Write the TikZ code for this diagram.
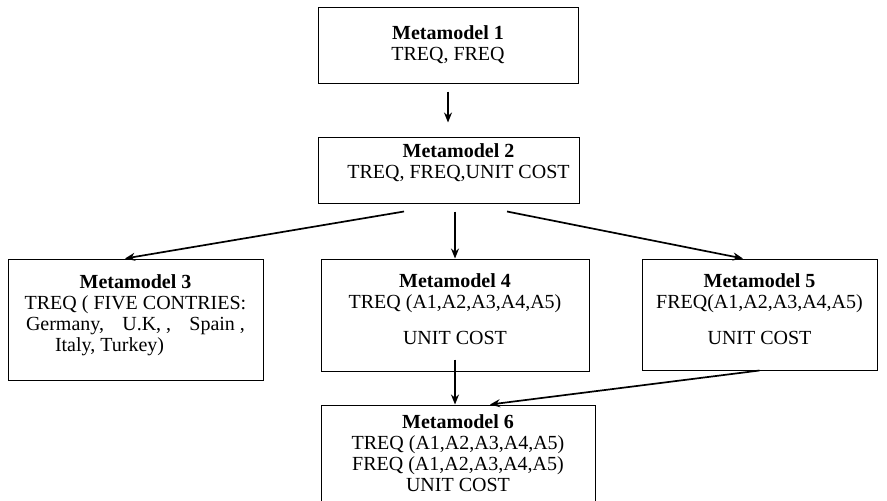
\documentclass[tikz,border=0pt]{standalone}
\usepackage{fontspec}
\setmainfont{Liberation Serif}
\usetikzlibrary{arrows.meta}
\tikzset{font={\fontsize{20pt}{21pt}\selectfont}}
\newcommand{\mtitle}[1]{\textbf{#1}}
\newcommand{\lowerpad}[1]{\rule[-#1]{0pt}{0pt}}

\begin{document}
\begin{tikzpicture}[x=1pt,y=-1pt,>={Stealth[length=10pt,width=8pt]},
                    box/.style={draw,line width=1pt,rectangle,align=center,inner sep=0pt},
                    arr/.style={->,line width=1.7pt}]
  \useasboundingbox (0,0) rectangle (887,501);

  \node[box,minimum width=260pt,minimum height=76pt] (m1) at (448,45)
    {\mtitle{Metamodel 1}\\TREQ, FREQ\lowerpad{2pt}};
  \node[box,minimum width=261pt,minimum height=66pt] (m2) at (448.5,170)
    {\hspace*{20pt}\mtitle{Metamodel 2}\\\hspace*{20pt}TREQ, FREQ,UNIT COST\lowerpad{18pt}};
  \node[box,minimum width=255pt,minimum height=121pt] (m3) at (135.5,319.5)
    {\mtitle{Metamodel 3}\\TREQ ( FIVE CONTRIES:\\
     \makebox[219pt]{Germany,\hfill U.K, ,\hfill Spain ,}\\
     \makebox[219pt][l]{\hspace*{29pt}Italy, Turkey)}\lowerpad{13pt}};
  \node[box,minimum width=268pt,minimum height=112pt] (m4) at (455,315)
    {\mtitle{Metamodel 4}\\TREQ (A1,A2,A3,A4,A5)\\[15pt]UNIT COST\lowerpad{11pt}};
  \node[box,minimum width=235pt,minimum height=111pt] (m5) at (759.5,314.5)
    {\mtitle{Metamodel 5}\\FREQ(A1,A2,A3,A4,A5)\\[15pt]UNIT COST\lowerpad{11pt}};
  \node[box,minimum width=274pt,minimum height=98pt] (m6) at (458,454)
    {\mtitle{Metamodel 6}\\TREQ (A1,A2,A3,A4,A5)\\FREQ (A1,A2,A3,A4,A5)\\UNIT COST\lowerpad{2pt}};

  % arrows
  \draw[arr,shorten <=8pt,shorten >=14pt] (m1.south) -- (m1.south |- m2.north);
  \draw[arr] ([xshift=-44.5pt,yshift=-8pt]m2.south) -- ([xshift=-10.5pt]m3.north);
  \draw[arr,shorten <=8pt] (m2.south -| m4.north) -- (m4.north);
  \draw[arr] ([xshift=58.5pt,yshift=-8pt]m2.south) -- ([xshift=-16.5pt]m5.north);
  \draw[arr,shorten <=-12pt] (m4.south) -- (m4.south |- m6.north);
  \draw[arr] (m5.south) -- ([xshift=32pt]m6.north);
\end{tikzpicture}
\end{document}
